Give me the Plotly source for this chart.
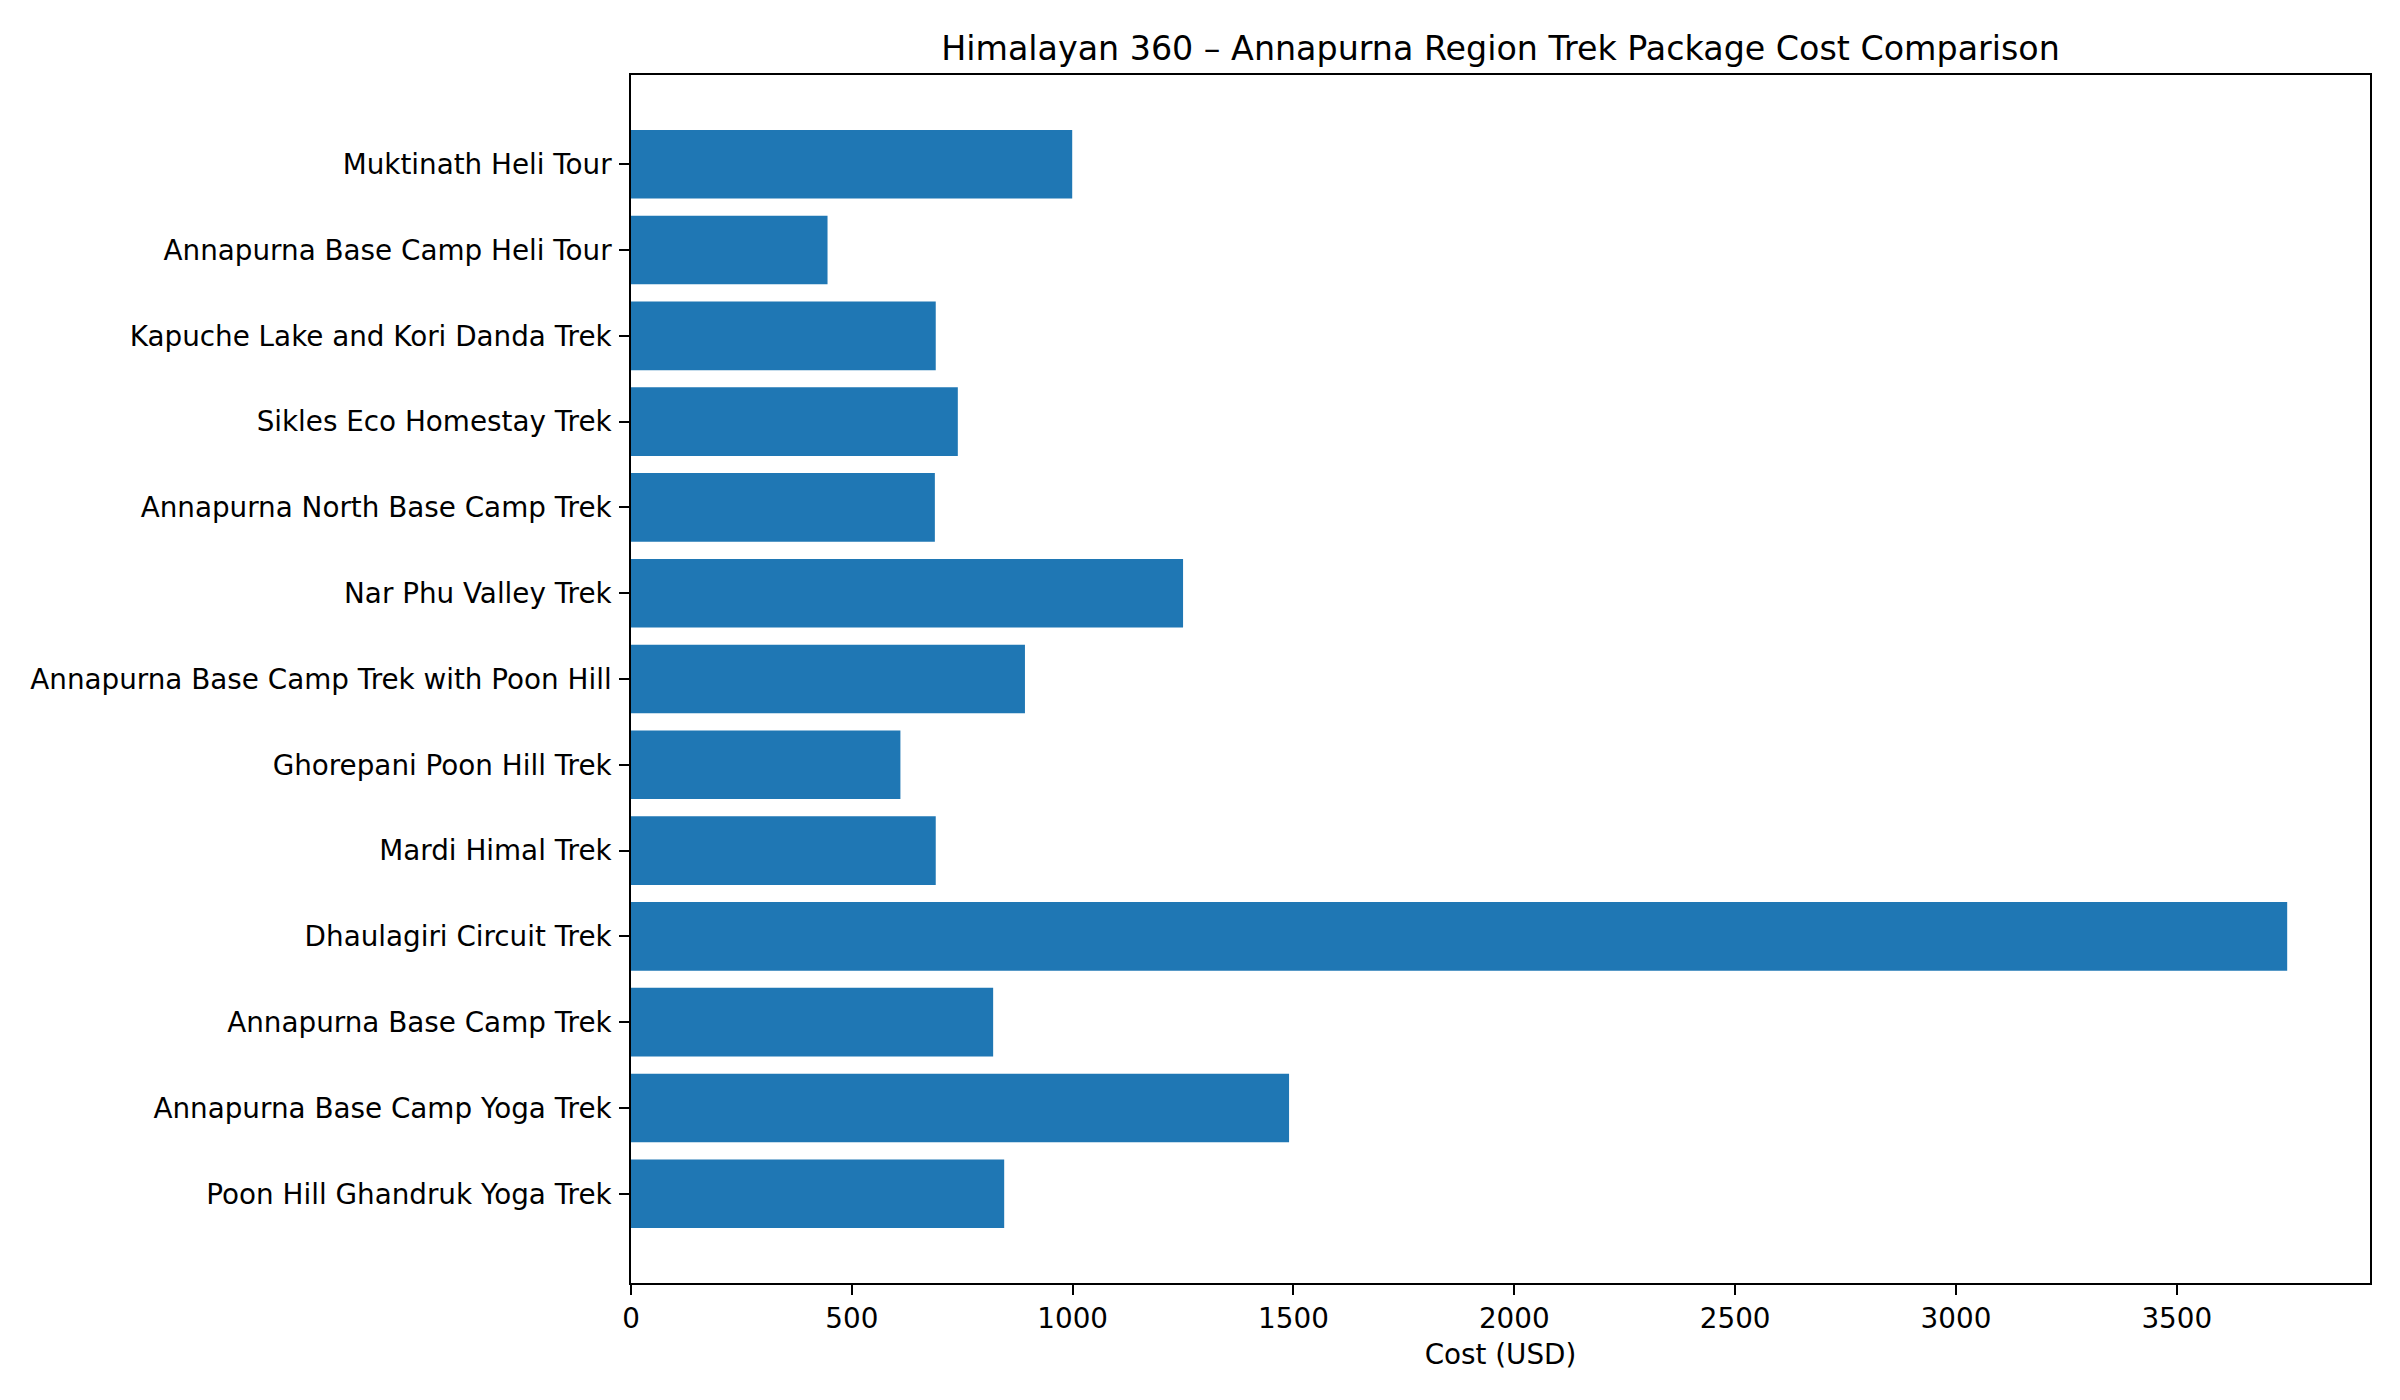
import plotly.graph_objects as go

# trek packages, bottom to top as drawn
treks = [
    "Poon Hill Ghandruk Yoga Trek",
    "Annapurna Base Camp Yoga Trek",
    "Annapurna Base Camp Trek",
    "Dhaulagiri Circuit Trek",
    "Mardi Himal Trek",
    "Ghorepani Poon Hill Trek",
    "Annapurna Base Camp Trek with Poon Hill",
    "Nar Phu Valley Trek",
    "Annapurna North Base Camp Trek",
    "Sikles Eco Homestay Trek",
    "Kapuche Lake and Kori Danda Trek",
    "Annapurna Base Camp Heli Tour",
    "Muktinath Heli Tour",
]
costs = [845, 1490, 820, 3750, 690, 610, 892, 1250, 688, 740, 690, 445, 999]

x_ticks = [0, 500, 1000, 1500, 2000, 2500, 3000, 3500]

font_family = "DejaVu Sans"
tick_px = 27.8
title_px = 33.3

fig = go.Figure()
fig.add_trace(go.Bar(
    x=costs,
    y=list(range(len(treks))),
    orientation="h",
    marker=dict(color="#1f77b4", line=dict(width=0)),
    width=0.8,
))

axis_common = dict(
    showline=True,
    linecolor="black",
    linewidth=2.2,
    mirror=True,
    ticks="outside",
    ticklen=9.7,
    tickwidth=2.2,
    tickcolor="black",
    showgrid=False,
    zeroline=False,
    tickfont=dict(family=font_family, size=tick_px, color="black"),
)

# page body adds ~8px offset, margins compensate for it
fig.update_layout(
    width=2400,
    height=1400,
    paper_bgcolor="white",
    plot_bgcolor="white",
    showlegend=False,
    margin=dict(l=623, r=38, t=67, b=125),
    title=dict(
        text="Himalayan 360 – Annapurna Region Trek Package Cost Comparison",
        x=0.5,
        xref="paper",
        xanchor="center",
        y=1 - 40 / 1400,
        yref="container",
        yanchor="middle",
        font=dict(family=font_family, size=title_px, color="black"),
    ),
    xaxis=dict(
        range=[0, 3937.5],
        tickvals=x_ticks,
        ticktext=[str(v) for v in x_ticks],
        title=dict(text="Cost (USD)", standoff=10,
                   font=dict(family=font_family, size=tick_px, color="black")),
        **axis_common,
    ),
    yaxis=dict(
        range=[-1.04, len(treks) - 1 + 1.04],
        tickvals=list(range(len(treks))),
        ticktext=treks,
        ticklabelstandoff=2,
        **axis_common,
    ),
)

fig.write_html("out.html")
